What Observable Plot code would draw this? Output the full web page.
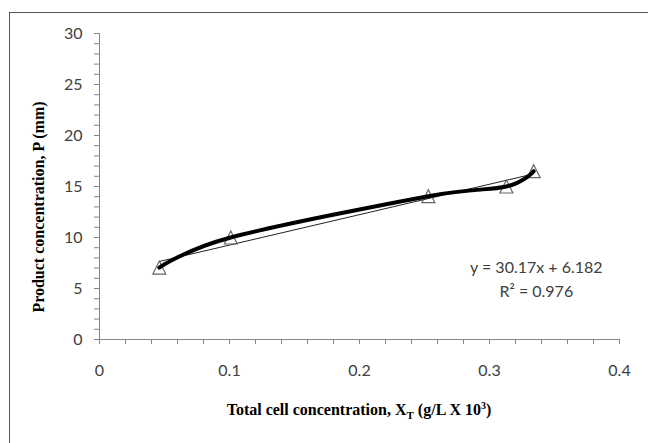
<!DOCTYPE html>
<html>
<head>
<meta charset="utf-8">
<script src="https://cdn.jsdelivr.net/npm/d3@7"></script>
<script src="https://cdn.jsdelivr.net/npm/@observablehq/plot@0.6"></script>
<style>
  html, body { margin: 0; padding: 0; background: #fff; overflow: hidden; }
  #wrap { position: relative; width: 648px; height: 443px; overflow: hidden; }
  #frame { position: absolute; left: 9px; top: 12px; width: 700px; height: 500px;
           border-left: 1px solid #555; border-top: 1px solid #555; box-sizing: border-box; pointer-events: none; }
  #wrap svg { position: absolute; left: 0; top: 0; }
</style>
</head>
<body>
<div id="wrap"><div id="frame"></div></div>
<script>
// ---- data ----
const xValues = [0.046, 0.101, 0.253, 0.313, 0.334];   // total cell concentration
const yValues = [7.05, 10.0, 14.05, 15.0, 16.5];       // product concentration
const xTicks = [0, 0.1, 0.2, 0.3, 0.4];
const yTicks = [0, 5, 10, 15, 20, 25, 30];
const xMinorTicks = [0, 0.02, 0.04, 0.06, 0.08, 0.1, 0.12, 0.14, 0.16, 0.18, 0.2,
                     0.22, 0.24, 0.26, 0.28, 0.3, 0.32, 0.34, 0.36, 0.38, 0.4];
const yMinorTicks = [0, 1, 2, 3, 4, 5, 6, 7, 8, 9, 10, 11, 12, 13, 14, 15, 16, 17, 18, 19, 20,
                     21, 22, 23, 24, 25, 26, 27, 28, 29, 30];
const equationLines = ["y = 30.17x + 6.182", "R² = 0.976"];
const yTitle = "Product concentration, P (mm)";
const xTitleParts = ["Total cell concentration, X", "T", " (g/L X 10", "3", ")"];

const points = xValues.map((x, i) => ({x, y: yValues[i]}));

const axisGray = "#868686";
const labelColor = "#404040";

const triangle = {
  draw(context) {
    const s = 6.5;
    context.moveTo(0, -s);
    context.lineTo(s, s);
    context.lineTo(-s, s);
    context.closePath();
  }
};

const svg = Plot.plot({
  width: 648,
  height: 443,
  marginLeft: 99,
  marginRight: 29,
  marginTop: 33,
  marginBottom: 104,
  style: {fontFamily: "Lato", fontSize: "16px", background: "transparent", overflow: "visible"},
  x: {domain: [0, 0.4]},
  y: {domain: [0, 30]},
  marks: [
    Plot.axisX({ticks: xMinorTicks, tickSize: 5, tickFormat: () => "", stroke: axisGray, label: null}),
    Plot.axisX({ticks: xTicks, tickSize: 0, tickPadding: 25, tickFormat: d => String(d), fill: labelColor, label: null}),
    Plot.axisY({ticks: yMinorTicks, tickSize: 5, tickFormat: () => "", stroke: axisGray, label: null}),
    Plot.axisY({ticks: yTicks, tickSize: 0, tickPadding: 17, tickFormat: d => String(d), fill: labelColor, label: null}),
    Plot.ruleX([0], {stroke: axisGray}),
    Plot.ruleY([0], {stroke: axisGray}),
    Plot.linearRegressionY(points, {x: "x", y: "y", ci: 0, stroke: "#222", strokeWidth: 1}),
    Plot.dot(points, {x: "x", y: "y", symbol: triangle, r: 6.5, fill: "none", stroke: "#666", strokeWidth: 1.2}),
    Plot.line(points, {x: "x", y: "y", curve: "cardinal", tension: 0, stroke: "#000", strokeWidth: 4}),
    Plot.text([equationLines.join("\n")], {x: 0.336, y: 6.07, lineHeight: 1.5, fill: labelColor, fontSize: 16, fontFamily: "Lato"})
  ]
});

document.getElementById("wrap").appendChild(svg);

const s = d3.select(svg);
// y-axis title
s.append("text")
  .attr("transform", "translate(38,207) rotate(-90)")
  .attr("text-anchor", "middle")
  .attr("dominant-baseline", "central")
  .attr("font-family", "Liberation Serif")
  .attr("font-weight", "bold")
  .attr("font-size", 16)
  .attr("fill", "#000")
  .text(yTitle);

// x-axis title with subscript and superscript
const xt = s.append("text")
  .attr("x", 359)
  .attr("y", 415)
  .attr("text-anchor", "middle")
  .attr("font-family", "Liberation Serif")
  .attr("font-weight", "bold")
  .attr("font-size", 16)
  .attr("fill", "#000");
xt.append("tspan").text(xTitleParts[0]);
xt.append("tspan").attr("font-size", 11).attr("dy", 4).text(xTitleParts[1]);
xt.append("tspan").attr("dy", -4).text(xTitleParts[2]);
xt.append("tspan").attr("font-size", 10).attr("dy", -6).text(xTitleParts[3]);
xt.append("tspan").attr("dy", 6).text(xTitleParts[4]);
</script>
</body>
</html>
